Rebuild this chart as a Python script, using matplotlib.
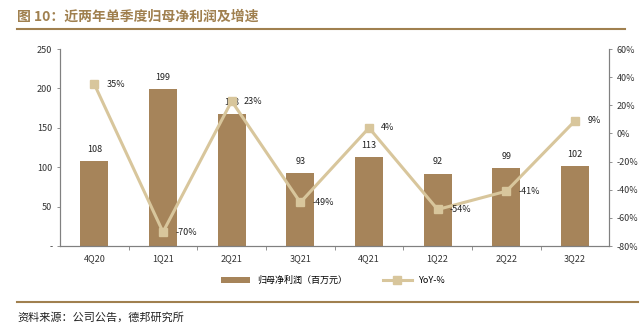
import matplotlib.pyplot as plt
import numpy as np

plt.rcParams['font.family'] = ['Noto Sans CJK SC', 'DejaVu Sans']

quarters = ['4Q20', '1Q21', '2Q21', '3Q21', '4Q21', '1Q22', '2Q22', '3Q22']
profit = [108, 199, 168, 93, 113, 92, 99, 102]
yoy = [35, -70, 23, -49, 4, -54, -41, 9]

bar_c = '#a6845a'
line_c = '#d8c69c'
title_c = '#a0804f'
axis_c = '#808080'

fig = plt.figure(figsize=(6.41, 3.29), dpi=100)
ax = fig.add_axes([0.0936, 0.252, 0.857, 0.599])
x = np.arange(len(quarters))
bars = ax.bar(x, profit, width=0.41, color=bar_c, zorder=2)
ax.set_ylim(0, 250)
ax.set_xlim(-0.5, len(quarters) - 0.5)
ax.set_yticks([0, 50, 100, 150, 200, 250])
ax.set_yticklabels(['-', '50', '100', '150', '200', '250'])
ax.set_xticks(x)
ax.set_xticklabels(quarters)
ax.set_xticks(np.arange(0.5, len(quarters) - 0.5), minor=True)
for xi, v in zip(x, profit):
    ax.text(xi, v + 9, str(v), ha='center', va='bottom', fontsize=6.5, color='#222222', zorder=5)

ax2 = ax.twinx()
ln, = ax2.plot(x, yoy, color=line_c, lw=2.2, marker='s', markersize=5.5, zorder=3)
ax2.set_ylim(-80, 60)
ax2.set_yticks(range(-80, 61, 20))
ax2.set_yticklabels([f'{t}%' for t in range(-80, 61, 20)])
for xi, v in zip(x, yoy):
    ax2.text(xi + 0.18, v, f'{v}%', ha='left', va='center', fontsize=6.5, color='#222222')

for a in (ax, ax2):
    a.spines['top'].set_visible(False)
    for s in ('left', 'right', 'bottom'):
        a.spines[s].set_color(axis_c)
        a.spines[s].set_linewidth(0.8)
    a.tick_params(labelsize=6.5, colors='#333333', length=2, width=0.6)
    a.tick_params(axis='y', color=axis_c)
ax.tick_params(axis='x', which='major', length=0, pad=6)
ax.tick_params(axis='x', which='minor', length=3, width=0.6, color=axis_c)
ax.set_zorder(0)
ax2.set_zorder(1)

fig.legend([bars, ln], ['归母净利润（百万元）', 'YoY-%'], loc='center', bbox_to_anchor=(0.52, 0.148),
           ncol=2, frameon=False, fontsize=6.5, handlelength=3.2, columnspacing=4)

fig.text(0.027, 0.95, '图 10：近两年单季度归母净利润及增速', fontsize=10, fontweight='bold', color=title_c, va='center')
fig.add_artist(plt.Line2D([0.027, 0.975], [0.912, 0.912], color=title_c, lw=1.5))
fig.add_artist(plt.Line2D([0.027, 0.995], [0.082, 0.082], color=title_c, lw=1.5))
fig.text(0.027, 0.035, '资料来源：公司公告，德邦研究所', fontsize=8, color='#222222', va='center')

fig.savefig('out.png', dpi=100)
